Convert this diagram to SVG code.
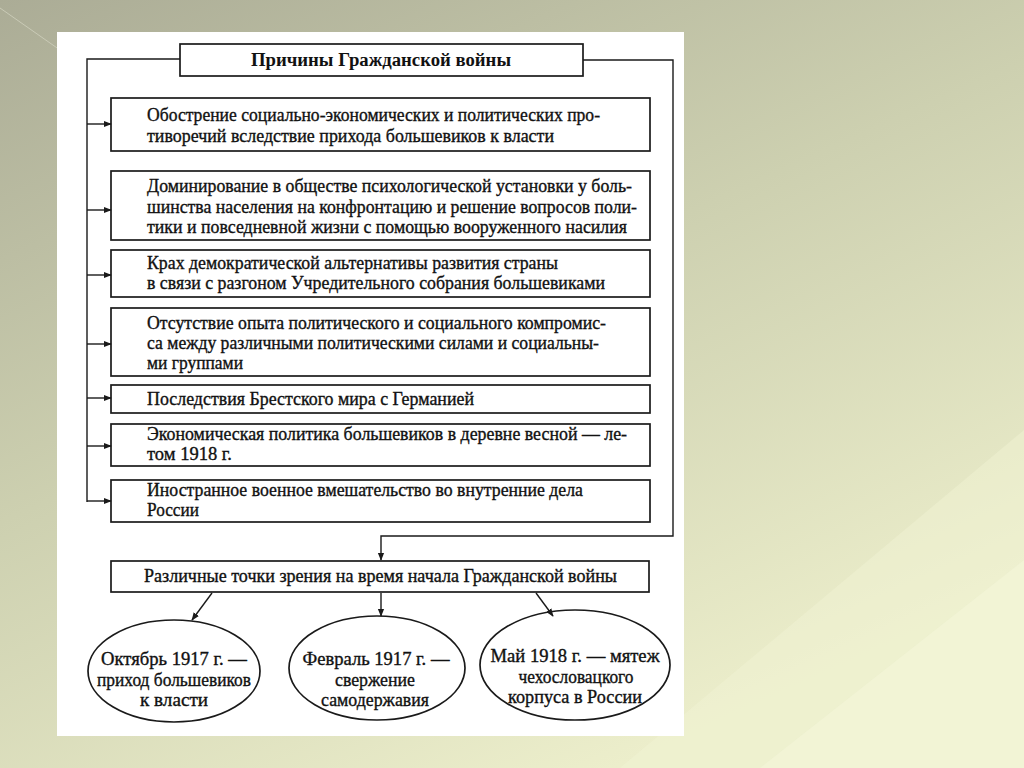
<svg xmlns="http://www.w3.org/2000/svg" width="1024" height="768" viewBox="0 0 1024 768">
<defs>
<linearGradient id="bg" x1="0" y1="0" x2="0.6" y2="1">
<stop offset="0" stop-color="#abac96"/>
<stop offset="0.5" stop-color="#cdd0b0"/>
<stop offset="1" stop-color="#eceecb"/>
</linearGradient>
<marker id="ah" viewBox="0 0 10 10" refX="9" refY="5" markerWidth="8" markerHeight="8" markerUnits="userSpaceOnUse" orient="auto">
<path d="M0,1 L10,5 L0,9 z" fill="#1a1a1a"/>
</marker>
<style>
.box{fill:#ffffff;stroke:#1a1a1a;stroke-width:1.7}
.ln{fill:none;stroke:#1a1a1a;stroke-width:1.4}
.t{font-family:"Liberation Serif","Times New Roman",serif;font-size:18.5px;fill:#111;font-weight:bold}
.tn{font-family:"Liberation Serif","Times New Roman",serif;font-size:18px;fill:#111;stroke:#111;stroke-width:0.35}
</style>
</defs>
<rect x="0" y="0" width="1024" height="768" fill="url(#bg)"/>
<polygon points="620,768 1024,430 1024,768" fill="#f2f4d4" opacity="0.45"/>
<polygon points="760,768 1024,560 1024,768" fill="#f6f7dc" opacity="0.5"/>
<line x1="0" y1="8" x2="60" y2="50" stroke="#c9cab6" stroke-width="1"/>
<rect x="57" y="32" width="627" height="704" fill="#ffffff"/>

<g id="title">
<rect class="box" x="180" y="44" width="403" height="32"/>
<text class="t" x="381" y="66" text-anchor="middle" textLength="260" lengthAdjust="spacingAndGlyphs">Причины Гражданской войны</text>
</g>

<g id="cause1">
<rect class="box" x="111" y="98" width="539" height="53"/>
<text class="tn" x="147" y="121" textLength="453" lengthAdjust="spacingAndGlyphs">Обострение социально-экономических и политических про-</text>
<text class="tn" x="147" y="142" textLength="407" lengthAdjust="spacingAndGlyphs">тиворечий вследствие прихода большевиков к власти</text>
</g>

<g id="cause2">
<rect class="box" x="111" y="171" width="539" height="69"/>
<text class="tn" x="147" y="192" textLength="485" lengthAdjust="spacingAndGlyphs">Доминирование в обществе психологической установки у боль-</text>
<text class="tn" x="147" y="213" textLength="490" lengthAdjust="spacingAndGlyphs">шинства населения на конфронтацию и решение вопросов поли-</text>
<text class="tn" x="147" y="233" textLength="480" lengthAdjust="spacingAndGlyphs">тики и повседневной жизни с помощью вооруженного насилия</text>
</g>

<g id="cause3">
<rect class="box" x="111" y="250" width="539" height="47"/>
<text class="tn" x="147" y="269" textLength="411" lengthAdjust="spacingAndGlyphs">Крах демократической альтернативы развития страны</text>
<text class="tn" x="147" y="289" textLength="458" lengthAdjust="spacingAndGlyphs">в связи с разгоном Учредительного собрания большевиками</text>
</g>

<g id="cause4">
<rect class="box" x="111" y="308" width="539" height="68"/>
<text class="tn" x="147" y="329" textLength="459" lengthAdjust="spacingAndGlyphs">Отсутствие опыта политического и социального компромис-</text>
<text class="tn" x="147" y="349" textLength="452" lengthAdjust="spacingAndGlyphs">са между различными политическими силами и социальны-</text>
<text class="tn" x="147" y="369" textLength="96" lengthAdjust="spacingAndGlyphs">ми группами</text>
</g>

<g id="cause5">
<rect class="box" x="111" y="385" width="539" height="28"/>
<text class="tn" x="147" y="405" textLength="327" lengthAdjust="spacingAndGlyphs">Последствия Брестского мира с Германией</text>
</g>

<g id="cause6">
<rect class="box" x="111" y="424" width="539" height="42"/>
<text class="tn" x="147" y="440" textLength="480" lengthAdjust="spacingAndGlyphs">Экономическая политика большевиков в деревне весной — ле-</text>
<text class="tn" x="147" y="460" textLength="85" lengthAdjust="spacingAndGlyphs">том 1918 г.</text>
</g>

<g id="cause7">
<rect class="box" x="111" y="480" width="539" height="42"/>
<text class="tn" x="147" y="496" textLength="436" lengthAdjust="spacingAndGlyphs">Иностранное военное вмешательство во внутренние дела</text>
<text class="tn" x="147" y="516" textLength="52" lengthAdjust="spacingAndGlyphs">России</text>
</g>

<g id="views">
<rect class="box" x="111" y="561" width="538" height="31"/>
<text class="tn" x="144" y="582" textLength="473" lengthAdjust="spacingAndGlyphs">Различные точки зрения на время начала Гражданской войны</text>
</g>

<g id="oct1917">
<ellipse class="box" cx="174" cy="671" rx="86" ry="51"/>
<text class="tn" x="174" y="665" text-anchor="middle" textLength="146" lengthAdjust="spacingAndGlyphs">Октябрь 1917 г. —</text>
<text class="tn" x="174" y="686" text-anchor="middle" textLength="154" lengthAdjust="spacingAndGlyphs">приход большевиков</text>
<text class="tn" x="174" y="706" text-anchor="middle" textLength="68" lengthAdjust="spacingAndGlyphs">к власти</text>
</g>

<g id="feb1917">
<ellipse class="box" cx="377" cy="668" rx="88" ry="52"/>
<text class="tn" x="376" y="665" text-anchor="middle" textLength="147" lengthAdjust="spacingAndGlyphs">Февраль 1917 г. —</text>
<text class="tn" x="375" y="686" text-anchor="middle" textLength="80" lengthAdjust="spacingAndGlyphs">свержение</text>
<text class="tn" x="375" y="706" text-anchor="middle" textLength="108" lengthAdjust="spacingAndGlyphs">самодержавия</text>
</g>

<g id="may1918">
<ellipse class="box" cx="575" cy="665" rx="95" ry="55"/>
<text class="tn" x="575" y="662" text-anchor="middle" textLength="169" lengthAdjust="spacingAndGlyphs">Май 1918 г. — мятеж</text>
<text class="tn" x="576" y="683" text-anchor="middle" textLength="115" lengthAdjust="spacingAndGlyphs">чехословацкого</text>
<text class="tn" x="575" y="703" text-anchor="middle" textLength="134" lengthAdjust="spacingAndGlyphs">корпуса в России</text>
</g>

<g id="connectors">
<polyline class="ln" points="180,59 87,59 87,502"/>
<polyline class="ln" points="583,60 673,60 673,536 381,536 381,560" marker-end="url(#ah)"/>
<line class="ln" x1="87" y1="124" x2="111" y2="124" marker-end="url(#ah)"/>
<line class="ln" x1="87" y1="210" x2="111" y2="210" marker-end="url(#ah)"/>
<line class="ln" x1="87" y1="275" x2="111" y2="275" marker-end="url(#ah)"/>
<line class="ln" x1="87" y1="344" x2="111" y2="344" marker-end="url(#ah)"/>
<line class="ln" x1="87" y1="398" x2="111" y2="398" marker-end="url(#ah)"/>
<line class="ln" x1="87" y1="446" x2="111" y2="446" marker-end="url(#ah)"/>
<line class="ln" x1="87" y1="501" x2="111" y2="501" marker-end="url(#ah)"/>
<line class="ln" x1="212" y1="593" x2="192" y2="620" marker-end="url(#ah)"/>
<line class="ln" x1="381" y1="593" x2="381" y2="616" marker-end="url(#ah)"/>
<line class="ln" x1="536" y1="593" x2="553" y2="616" marker-end="url(#ah)"/>
</g>
</svg>
